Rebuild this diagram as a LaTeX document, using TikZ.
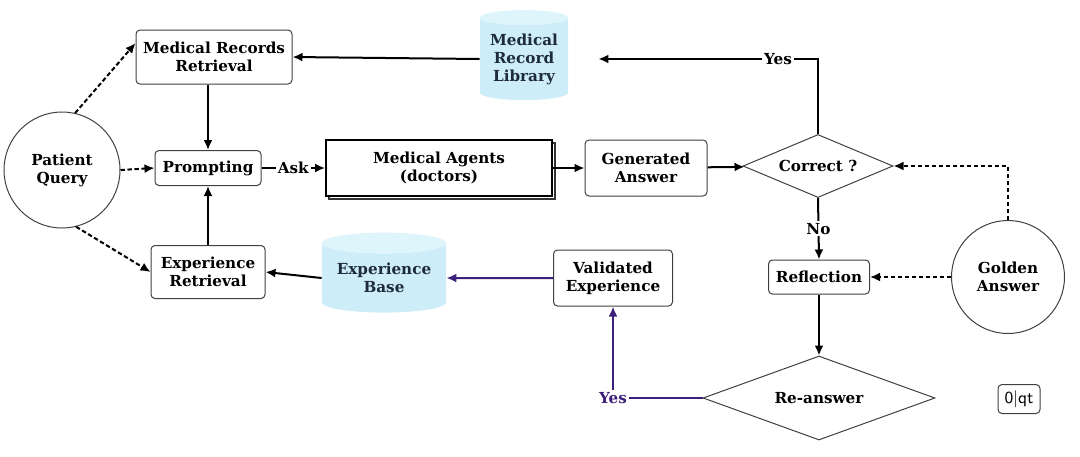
\documentclass[tikz,border=0pt]{standalone}
\usepackage{fontspec}
\setmainfont{DejaVu Serif}
\usetikzlibrary{arrows.meta,shapes.geometric,shadows}
\definecolor{azulbanco}{HTML}{CDEDF8}
\definecolor{azultopo}{HTML}{DFF5FC}
\definecolor{roxo}{HTML}{3B1F78}
\definecolor{textobanco}{HTML}{1E2B38}
\newcommand{\letra}{\fontsize{7.6}{9}\selectfont\bfseries}
\tikzset{
  caixa/.style={draw=black!75, rounded corners=2pt, line width=0.5pt, align=center, font=\letra, inner sep=0pt},
  circulo/.style={circle, draw=black!75, line width=0.5pt, align=center, font=\letra, inner sep=0pt},
  losango/.style={diamond, aspect=2.6, draw=black!75, line width=0.5pt, align=center, font=\letra, inner sep=0pt},
  banco/.style={cylinder, shape border rotate=90, aspect=0.22, cylinder uses custom fill, cylinder body fill=azulbanco, cylinder end fill=azultopo, draw=none, align=center, text=textobanco, font=\letra, inner sep=0pt},
  seta/.style={line width=1pt, -{Latex[length=5pt,width=4.5pt]}},
  tracejada/.style={seta, dash pattern=on 2.2pt off 1.3pt},
  rotulo/.style={fill=white, inner sep=1pt, font=\letra}
}
\begin{document}
\begin{tikzpicture}[x=0.5pt, y=-0.5pt]
            \useasboundingbox (0,0) rectangle (1080,456);
            %caixas
            \draw (62, 170) node[circulo, minimum size=58pt](pq){Patient\\Query}
            (214, 57) node[caixa, minimum width=78pt, minimum height=27pt](mrr){Medical Records\\Retrieval}
            (208, 168) node[caixa, minimum width=53pt, minimum height=17.5pt](prompt){Prompting}
            (208, 272) node[caixa, minimum width=57pt, minimum height=26.5pt](er){Experience\\Retrieval}
            (439, 168) node[caixa, rounded corners=0pt, line width=0.9pt, fill=white, draw=black, minimum width=113pt, minimum height=28pt, copy shadow={shadow xshift=1.5pt, shadow yshift=-1.5pt, fill=white, draw=black!80}](agents){Medical Agents\\(doctors)}
            (646, 168) node[caixa, minimum width=61pt, minimum height=28pt](ga){Generated\\Answer}
            (818, 166) node[losango, minimum width=75pt, minimum height=31.5pt](correct){Correct ?}
            (524, 59) node[banco, minimum width=44pt, minimum height=45pt](mrl){Medical\\Record\\Library}
            (384, 278) node[banco, minimum width=62pt, minimum height=40pt](eb){Experience\\Base}
            (613, 278) node[caixa, minimum width=59.5pt, minimum height=28pt](ve){Validated\\Experience}
            (819, 277) node[caixa, minimum width=50.5pt, minimum height=17pt](refl){Reflection}
            (1008, 277) node[circulo, minimum size=56.5pt](gold){Golden\\Answer}
            (819, 398) node[losango, minimum width=116pt, minimum height=42pt](reans){Re-answer}
            (1019, 399) node[caixa, font=\sffamily\fontsize{8.5}{9}\selectfont, minimum width=21pt, minimum height=14.5pt](lixo){0|qt};

            %setas
            \draw[tracejada] (pq.77) -- (mrr.170);
            \draw[tracejada] (pq.east) -- (prompt.west);
            \draw[tracejada] (pq.-76) -- (er.west);
            \draw[seta] (prompt.north |- mrr.south) -- (prompt.north);
            \draw[seta] (er.north) -- (er.north |- prompt.south);
            \draw[seta] (prompt) -- node[rotulo]{Ask} (agents);
            \draw[seta] (agents) -- (ga);
            \draw[seta] (ga) -- (correct);
            \draw[seta, shorten >=15pt] (correct.north) |- node[rotulo, pos=0.58]{Yes} (mrl.east);
            \draw[seta] (mrl.west) -- (mrr.east);
            \draw[tracejada] (gold.north) |- (correct.east);
            \draw[tracejada] (gold.west) -- (refl.east);
            \draw[seta] (correct.south) -- node[rotulo]{No} (refl.north);
            \draw[seta] (refl.south) -- (reans.north);
            \draw[seta, roxo] (reans.west) -| node[rotulo, text=roxo]{Yes} (ve.south);
            \draw[seta, roxo] (ve.west) -- (eb.east);
            \draw[seta] (eb.west) -- (er.east);
        \end{tikzpicture}
\end{document}
